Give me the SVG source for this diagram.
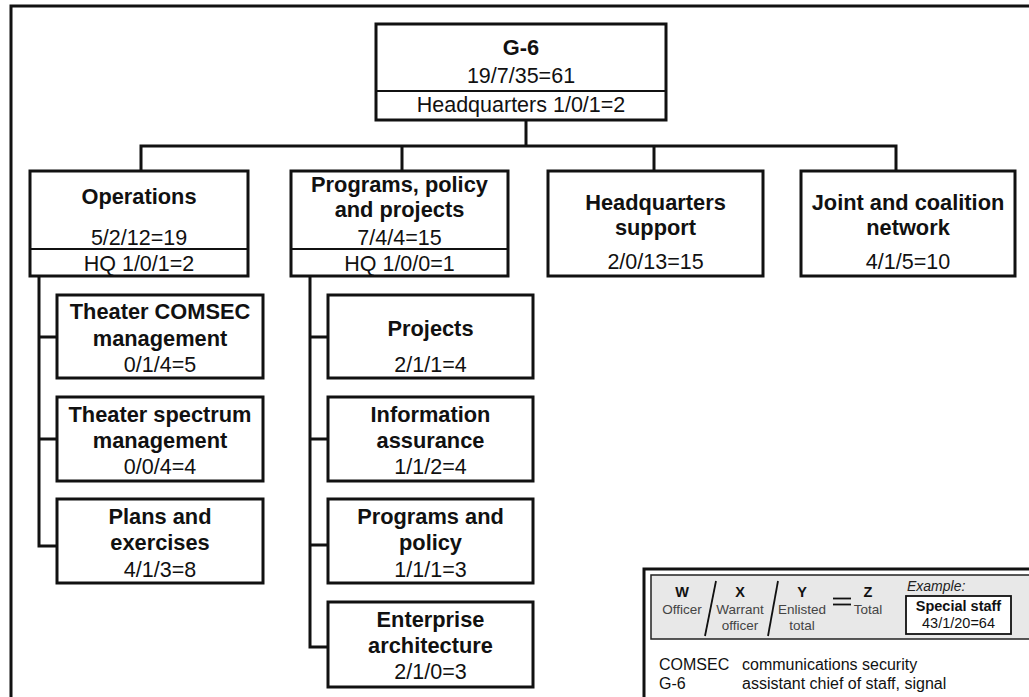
<svg xmlns="http://www.w3.org/2000/svg" width="1029" height="697" viewBox="0 0 1029 697">
  <style>
    .box { fill: #fff; stroke: #111; stroke-width: 3; }
    .div { stroke: #111; stroke-width: 2; }
    .wire { fill: none; stroke: #111; stroke-width: 3; }
    text { font-family: "Liberation Sans", Arial, sans-serif; fill: #111; text-anchor: middle; }
    .t { font-size: 21.8px; font-weight: bold; }
    .n { font-size: 21.5px; }
    .lg { font-size: 13.5px; fill: #444; }
    .lb { font-size: 14.5px; font-weight: bold; }
    .ln { font-size: 14.5px; }
    .gl { font-size: 16px; text-anchor: start; }
  </style>

  <rect width="1029" height="697" fill="#fff"/>

  <!-- page frame -->
  <path d="M11,700 V6 H1035" class="wire"/>

  <!-- connectors -->
  <g id="connectors">
    <path class="wire" d="M526,120 V146"/>
    <path class="wire" d="M141,171 V146 H896 V171"/>
    <path class="wire" d="M402,146 V171"/>
    <path class="wire" d="M654,146 V171"/>
    <!-- Operations branch -->
    <path class="wire" d="M39,276 V546 H57 M39,337 H57 M39,439 H57"/>
    <!-- Programs branch -->
    <path class="wire" d="M310,276 V647 H328 M310,337 H328 M310,439 H328 M310,545 H328"/>
  </g>

  <g id="g6">
    <rect class="box" x="376" y="24" width="290" height="96"/>
    <line class="div" x1="376" y1="91" x2="666" y2="91"/>
    <text class="t" x="521" y="55">G-6</text>
    <text class="n" x="521" y="83">19/7/35=61</text>
    <text class="n" x="521" y="112">Headquarters 1/0/1=2</text>
  </g>

  <g id="operations">
    <rect class="box" x="30" y="171" width="218" height="105"/>
    <line class="div" x1="30" y1="249" x2="248" y2="249"/>
    <text class="t" x="139" y="204">Operations</text>
    <text class="n" x="139" y="245">5/2/12=19</text>
    <text class="n" x="139" y="271">HQ 1/0/1=2</text>
  </g>

  <g id="programs-policy-projects">
    <rect class="box" x="291" y="171" width="217" height="105"/>
    <line class="div" x1="291" y1="249" x2="508" y2="249"/>
    <text class="t" x="399.5" y="192">Programs, policy</text>
    <text class="t" x="399.5" y="217">and projects</text>
    <text class="n" x="399.5" y="245">7/4/4=15</text>
    <text class="n" x="399.5" y="271">HQ 1/0/0=1</text>
  </g>

  <g id="headquarters-support">
    <rect class="box" x="548" y="171" width="215" height="105"/>
    <text class="t" x="655.5" y="210">Headquarters</text>
    <text class="t" x="655.5" y="235">support</text>
    <text class="n" x="655.5" y="269">2/0/13=15</text>
  </g>

  <g id="joint-coalition-network">
    <rect class="box" x="801" y="171" width="214" height="105"/>
    <text class="t" x="908" y="210">Joint and coalition</text>
    <text class="t" x="908" y="235">network</text>
    <text class="n" x="908" y="269">4/1/5=10</text>
  </g>

  <g id="theater-comsec">
    <rect class="box" x="57" y="295" width="206" height="83"/>
    <text class="t" x="160" y="319">Theater COMSEC</text>
    <text class="t" x="160" y="346">management</text>
    <text class="n" x="160" y="372">0/1/4=5</text>
  </g>

  <g id="theater-spectrum">
    <rect class="box" x="57" y="397" width="206" height="84"/>
    <text class="t" x="160" y="422">Theater spectrum</text>
    <text class="t" x="160" y="448">management</text>
    <text class="n" x="160" y="474">0/0/4=4</text>
  </g>

  <g id="plans-exercises">
    <rect class="box" x="57" y="499" width="206" height="84"/>
    <text class="t" x="160" y="524">Plans and</text>
    <text class="t" x="160" y="550">exercises</text>
    <text class="n" x="160" y="577">4/1/3=8</text>
  </g>

  <g id="projects">
    <rect class="box" x="328" y="295" width="205" height="83"/>
    <text class="t" x="430.5" y="336">Projects</text>
    <text class="n" x="430.5" y="372">2/1/1=4</text>
  </g>

  <g id="information-assurance">
    <rect class="box" x="328" y="397" width="205" height="84"/>
    <text class="t" x="430.5" y="422">Information</text>
    <text class="t" x="430.5" y="448">assurance</text>
    <text class="n" x="430.5" y="474">1/1/2=4</text>
  </g>

  <g id="programs-policy">
    <rect class="box" x="328" y="499" width="205" height="84"/>
    <text class="t" x="430.5" y="524">Programs and</text>
    <text class="t" x="430.5" y="550">policy</text>
    <text class="n" x="430.5" y="577">1/1/1=3</text>
  </g>

  <g id="enterprise-architecture">
    <rect class="box" x="328" y="602" width="205" height="85"/>
    <text class="t" x="430.5" y="627">Enterprise</text>
    <text class="t" x="430.5" y="653">architecture</text>
    <text class="n" x="430.5" y="679">2/1/0=3</text>
  </g>

  <!-- key -->
  <g id="legend">
    <path d="M644,700 V569 H1040" fill="none" stroke="#111" stroke-width="3"/>
    <rect x="651" y="575" width="390" height="64" fill="#e8e8e8" stroke="#222" stroke-width="1.5"/>
    <text class="lb" x="682" y="597">W</text>
    <text class="lg" x="682" y="614">Officer</text>
    <line x1="716" y1="581" x2="705" y2="636" stroke="#111" stroke-width="1.8"/>
    <text class="lb" x="740" y="597">X</text>
    <text class="lg" x="740" y="614">Warrant</text>
    <text class="lg" x="740" y="630">officer</text>
    <line x1="778" y1="581" x2="768" y2="636" stroke="#111" stroke-width="1.8"/>
    <text class="lb" x="802" y="597">Y</text>
    <text class="lg" x="802" y="614">Enlisted</text>
    <text class="lg" x="802" y="630">total</text>
    <line x1="833" y1="598.5" x2="851" y2="598.5" stroke="#111" stroke-width="1.8"/>
    <line x1="833" y1="604.5" x2="851" y2="604.5" stroke="#111" stroke-width="1.8"/>
    <text class="lb" x="868" y="597">Z</text>
    <text class="lg" x="868" y="614">Total</text>
    <text x="907" y="591" style="font-size:14px;font-style:italic;text-anchor:start;fill:#222">Example:</text>
    <rect x="906" y="596" width="105" height="38" fill="#fff" stroke="#111" stroke-width="1.8"/>
    <text class="lb" x="958.5" y="611">Special staff</text>
    <text class="ln" x="958.5" y="628">43/1/20=64</text>
    <text class="gl" x="659" y="670">COMSEC</text>
    <text class="gl" x="742" y="670">communications security</text>
    <text class="gl" x="659" y="689">G-6</text>
    <text class="gl" x="742" y="689">assistant chief of staff, signal</text>
  </g>
</svg>
